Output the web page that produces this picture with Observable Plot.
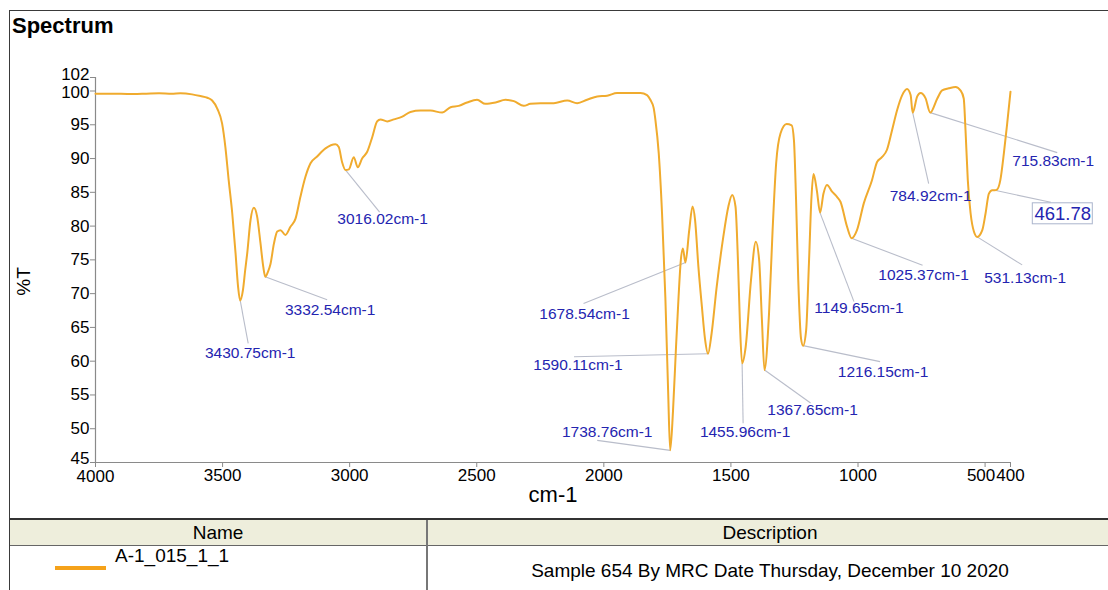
<!DOCTYPE html>
<html>
<head>
<meta charset="utf-8">
<script src="https://cdn.jsdelivr.net/npm/d3@7"></script>
<script src="https://cdn.jsdelivr.net/npm/@observablehq/plot@0.6"></script>
<style>
  html, body { margin: 0; padding: 0; background: #fff; }
  body { width: 1108px; height: 590px; overflow: hidden; position: relative;
         font-family: "Liberation Sans", Arial, sans-serif; color: #000; }
  .abs { position: absolute; }
</style>
</head>
<body>
<div class="abs" style="left:9px;top:10px;width:1110px;height:590px;border-left:1.5px solid #3a3a3a;border-top:1.5px solid #3a3a3a;"></div>
<div class="abs" style="left:12px;top:15px;font-size:22px;line-height:22px;font-weight:bold;">Spectrum</div>
<div id="chart" class="abs" style="left:0;top:60px;"></div>

<!-- legend table -->
<div class="abs" style="left:10px;top:520px;width:1098px;height:25px;background:#eeeedc;"></div>
<div class="abs" style="left:10px;top:518px;width:1098px;height:2px;background:#333;"></div>
<div class="abs" style="left:10px;top:545px;width:1098px;height:1px;background:#666;"></div>
<div class="abs" style="left:426px;top:520px;width:2px;height:70px;background:#777;"></div>
<div id="hName" class="abs" style="left:10px;width:416px;top:522px;text-align:center;font-size:19px;line-height:22px;"></div>
<div id="hDesc" class="abs" style="left:428px;width:684px;top:522px;text-align:center;font-size:19px;line-height:22px;"></div>
<div id="swatch" class="abs" style="left:55px;top:566px;width:51px;height:4px;"></div>
<div id="seriesName" class="abs" style="left:115px;top:545px;font-size:19px;line-height:22px;"></div>
<div id="seriesDesc" class="abs" style="left:428px;width:684px;top:560px;text-align:center;font-size:19px;line-height:22px;"></div>

<script>
// ---- data ----
const wavenumber = [4000,3950,3900,3850,3800,3750,3700,3666,3620,3587,3560,3541,3521,3502,3489,3476,3462,3449,3439,3431,3420,3411,3403,3390,3377,3364,3351,3340,3332,3322,3312,3298,3285,3272,3253,3233,3213,3194,3174,3154,3128,3095,3056,3043,3030,3016,3003,2984,2968,2951,2931,2911,2892,2879,2852,2826,2793,2761,2721,2682,2636,2603,2571,2538,2499,2466,2426,2387,2354,2315,2289,2249,2197,2144,2105,2066,2026,1987,1948,1895,1856,1830,1817,1804,1797,1784,1771,1758,1747,1739,1728,1716,1706,1697,1689,1679,1664,1651,1641,1628,1614,1602,1590,1576,1556,1530,1510,1495,1482,1472,1464,1456,1442,1421,1402,1389,1378,1368,1350,1336,1322,1305,1281,1261,1252,1244,1235,1224,1216,1204,1193,1183,1175,1162,1149,1136,1122,1102,1082,1069,1043,1025,1004,977,945,925,906,886,866,846,826,807,793,785,767,754,734,716,688,669,643,616,597,584,577,568,557,544,531,511,498,485,472,462,453,440,426,413,400];
const transmittance = [99.6,99.6,99.6,99.55,99.6,99.65,99.6,99.65,99.5,99.25,99.0,98.6,97.4,95.2,91.7,86.8,81.9,76.0,71.0,69.0,70.5,73.5,76.0,80.9,82.7,81.4,77.5,74.0,72.5,73.2,74.3,77.4,79.2,79.4,78.7,79.9,81.1,84.3,87.3,89.3,90.3,91.5,92.1,91.7,89.5,88.3,88.4,90.2,88.7,90.0,91.0,93.2,95.5,95.8,95.5,95.8,96.2,96.9,97.1,97.1,96.8,97.6,97.8,98.3,98.7,98.1,98.3,98.7,98.5,97.8,98.1,98.2,98.2,98.6,98.2,98.7,99.2,99.3,99.7,99.7,99.7,99.4,98.7,97.5,95.7,90.8,81.9,69.5,55.5,46.8,52.5,62.1,69.5,75.0,76.7,74.6,79.4,82.9,80.9,74.0,68.0,63.3,61.1,64.1,71.0,78.4,82.9,84.6,82.9,74.5,65.0,59.7,62.1,72.0,77.7,75.0,66.1,58.7,67.1,79.4,89.3,93.7,95.1,94.9,92.7,84.3,72.0,63.3,62.3,64.6,74.5,84.3,87.7,85.3,82.0,84.8,86.1,85.1,84.3,83.6,79.9,78.2,79.4,83.4,86.8,89.5,90.2,91.3,94.2,97.2,99.4,100.3,99.4,96.8,99.2,99.7,98.9,96.8,98.9,100.1,100.4,100.6,100.1,98.9,94.2,86.8,81.9,79.2,78.4,79.4,81.9,84.8,85.3,85.3,85.4,86.8,90.8,95.2,99.9];

const peakLabels = ["3430.75cm-1","3332.54cm-1","3016.02cm-1","1738.76cm-1","1678.54cm-1","1590.11cm-1","1455.96cm-1","1367.65cm-1","1216.15cm-1","1149.65cm-1","1025.37cm-1","784.92cm-1","715.83cm-1","531.13cm-1","461.78"];
const peakWn = [3430.75,3332.54,3016.02,1738.76,1678.54,1590.11,1455.96,1367.65,1216.15,1149.65,1025.37,784.92,715.83,531.13,461.78];
const peakT = [69.0,72.5,88.3,46.8,74.6,61.1,59.7,58.7,62.3,82.0,78.2,96.8,96.8,78.4,85.3];
const boxedLabel = "461.78";

const xTicks = [4000,3500,3000,2500,2000,1500,1000,500,400];
const yTicks = [45,50,55,60,65,70,75,80,85,90,95,100,102];
const xLabel = "cm-1";
const yLabel = "%T";
const tableHeaders = ["Name","Description"];
const seriesName = "A-1_015_1_1";
const seriesDesc = "Sample 654 By MRC Date Thursday, December 10 2020";

// ---- layout (pixel offsets of leader end and label centre from each peak) ----
const labelLayout = [[8,43,10,53],[62,23,65,33],[34,42,37,49],[-73,-10,-63,-18],[-102,41,-101,51],[-134,3,-130,11],[1,60,3,69],[46,33,48,40],[77,16,80,26],[34,89,39,95],[71,27,72,37],[16,71,18,83],[127,40,123,48],[45,28,48,41],[56,12,68,24]];
const xLabelShift = [[500, -4, 0], [4000, 0, 1]];            // [tick, dx, dy]
const yLabelShift = [[102, 0, -3], [100, 0, 2], [45, 0, -4]];

const W = 1108, H = 455, mL = 95, mR = 98, mT = 17, mB = 53;
const xDomain = [4000, 400], yDomain = [45, 102];
const lineColor = "#f0ab2e", annColor = "#2424b0", leaderColor = "#b9bdca", axisColor = "#8a8a8a";
const tickFont = 17;

const spectrum = wavenumber.map((w, i) => ({w, t: transmittance[i]}));
const xs = Plot.scale({x: {domain: xDomain, range: [mL, W - mR]}});
const ys = Plot.scale({y: {domain: yDomain, range: [H - mB, mT]}});
const ann = peakLabels.map((label, i) => {
  const px = xs.apply(peakWn[i]), py = ys.apply(peakT[i]);
  const [ldx, ldy, tdx, tdy] = labelLayout[i];
  return {label, w: peakWn[i], t: peakT[i],
    lw: xs.invert(px + ldx), lt: ys.invert(py + ldy),
    tw: xs.invert(px + tdx), tt: ys.invert(py + tdy),
    boxed: label === boxedLabel,
    bx1: xs.invert(px + tdx - 30), bx2: xs.invert(px + tdx + 30),
    by1: ys.invert(py + tdy - 11), by2: ys.invert(py + tdy + 10)};
});
const xShifted = new Set(xLabelShift.map(d => d[0]));
const yShifted = new Set(yLabelShift.map(d => d[0]));

const chart = Plot.plot({
  width: W, height: H,
  marginLeft: mL, marginRight: mR, marginTop: mT, marginBottom: mB,
  x: {domain: xDomain},
  y: {domain: yDomain},
  style: {fontFamily: "'Liberation Sans', Arial, sans-serif", fontSize: tickFont + "px", color: "#000", background: "transparent", overflow: "visible"},
  marks: [
    Plot.ruleX([xDomain[0]], {y1: yDomain[0], y2: yDomain[1], stroke: axisColor, strokeWidth: 1.2}),
    Plot.ruleY([yDomain[0]], {x1: xDomain[0], x2: xDomain[1], stroke: axisColor, strokeWidth: 1.2}),
    Plot.axisY({ticks: yTicks, tickSize: 5, tickPadding: 1, stroke: axisColor, fill: "#000", label: null,
      tickFormat: d => yShifted.has(d) ? "" : String(d)}),
    ...yLabelShift.map(([v, dx, dy]) => Plot.text([v], {y: d => d, frameAnchor: "left", dx: -6 + dx, dy, textAnchor: "end", text: d => String(d), fill: "#000"})),
    Plot.axisX({ticks: xTicks, tickSize: 5, tickPadding: 1, stroke: axisColor, fill: "#000", label: null,
      tickFormat: d => xShifted.has(d) ? "" : String(d)}),
    ...xLabelShift.map(([v, dx, dy]) => Plot.text([v], {x: d => d, frameAnchor: "bottom", dy: 6 + dy, dx, lineAnchor: "top", text: d => String(d), fill: "#000"})),
    Plot.text([yLabel], {x: () => xs.invert(23), y: () => ys.invert(221), rotate: -90, fontSize: 19, text: d => d}),
    Plot.text([xLabel], {frameAnchor: "bottom", dy: 39, fontSize: 22, text: d => d}),
    Plot.link(ann, {x1: "w", y1: "t", x2: "lw", y2: "lt", stroke: leaderColor, strokeWidth: 1.1}),
    Plot.line(spectrum, {x: "w", y: "t", stroke: lineColor, strokeWidth: 2, curve: "monotone-x"}),
    Plot.rect(ann.filter(d => d.boxed), {x1: "bx1", x2: "bx2", y1: "by1", y2: "by2", fill: "#fff", stroke: "#aab4cc", strokeWidth: 1}),
    Plot.text(ann, {x: "tw", y: "tt", text: "label", fill: annColor, fontSize: d => d.boxed ? 18.5 : 15.5, lineAnchor: "middle"})
  ]
});
document.getElementById("chart").appendChild(chart);

document.getElementById("hName").textContent = tableHeaders[0];
document.getElementById("hDesc").textContent = tableHeaders[1];
document.getElementById("swatch").style.background = "#f5a21a";
document.getElementById("seriesName").textContent = seriesName;
document.getElementById("seriesDesc").textContent = seriesDesc;
</script>
</body>
</html>
